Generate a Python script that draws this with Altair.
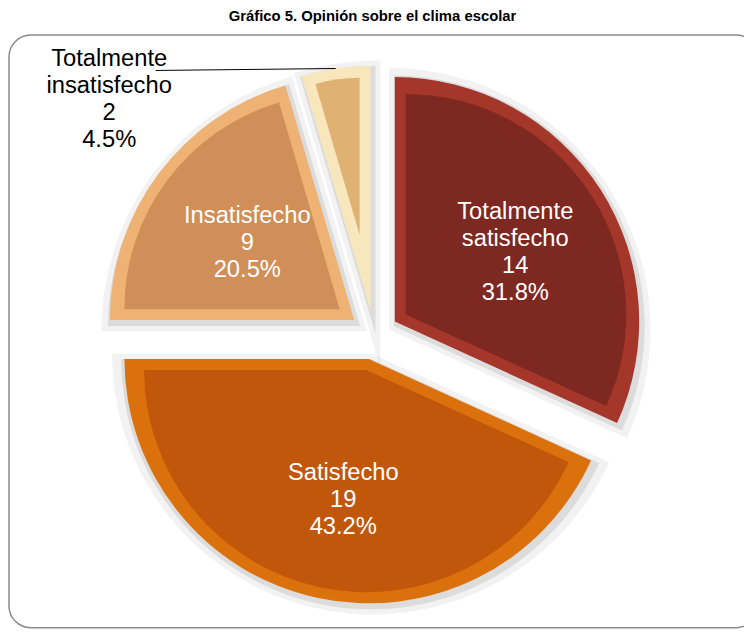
import altair as alt
import pandas as pd

# ---- data ----
categories = ["Totalmente satisfecho", "Satisfecho", "Insatisfecho", "Totalmente insatisfecho"]
counts = [14, 19, 9, 2]
fill_colors = ["#7E2822", "#C0570A", "#D08E58", "#DFB273"]
edge_colors = ["#A4362A", "#DB710D", "#EDB274", "#F8E6BC"]

df = pd.DataFrame({"cat": categories, "n": counts, "order": list(range(len(categories)))})

# ---- geometry / style (view pixels) ----
W, H = 743, 600
CX, CY = 369, 303
EXPLODE = 25
R = 247
BEVEL = 11
LABEL_R = 140
LH = 27.5

base = (
    alt.Chart(df)
    .transform_joinaggregate(total="sum(n)")
    .transform_window(cum="sum(n)", sort=[alt.SortField("order")], frame=[None, 0])
    .transform_calculate(
        t1="2*PI*datum.cum/datum.total",
        t0="2*PI*(datum.cum-datum.n)/datum.total",
    )
    .transform_calculate(
        mid="(datum.t0+datum.t1)/2",
        half="(datum.t1-datum.t0)/2",
        pct="100*datum.n/datum.total",
        nlines="indexof(datum.cat, ' ') >= 0 ? 4 : 3",
    )
    .transform_calculate(
        ax=f"{CX}+{EXPLODE}*sin(datum.mid)",
        ay=f"{CY}-{EXPLODE}*cos(datum.mid)",
        s=f"{BEVEL}/sin(datum.half)",
        sh1="8/sin(datum.half)",
        sh2="3/sin(datum.half)",
    )
    .transform_calculate(
        ix="datum.ax+datum.s*sin(datum.mid)",
        iy="datum.ay-datum.s*cos(datum.mid)",
        ir=f"{R}-{BEVEL}-datum.s",
        s1x="datum.ax-datum.sh1*sin(datum.mid)",
        s1y="datum.ay+datum.sh1*cos(datum.mid)",
        s1r=f"{R}+8+datum.sh1",
        s2x="datum.ax-datum.sh2*sin(datum.mid)",
        s2y="datum.ay+datum.sh2*cos(datum.mid)",
        s2r=f"{R}+3+datum.sh2",
        ex=f"datum.ax+{R}*sin(datum.mid)",
        ey=f"datum.ay-{R}*cos(datum.mid)",
        lx=f"datum.ax+{LABEL_R}*sin(datum.mid)+4",
        ly=f"datum.ay-{LABEL_R}*cos(datum.mid)-(datum.nlines-1)/2*{LH}+6",
        label="replace(datum.cat, ' ', '\\n') + '\\n' + datum.n + '\\n' + format(datum.pct, '.1f') + '%'",
    )
)

theta = alt.Theta("t0:Q", scale=None, stack=None)
theta2 = alt.Theta2("t1:Q")

shadow1 = base.mark_arc(color="#000000", opacity=0.05, xOffset=2, yOffset=3).encode(
    x=alt.X("s1x:Q", scale=None, axis=None),
    y=alt.Y("s1y:Q", scale=None, axis=None),
    theta=theta, theta2=theta2,
    radius=alt.Radius("s1r:Q", scale=None),
)
shadow2 = base.mark_arc(color="#000000", opacity=0.09, xOffset=2, yOffset=3).encode(
    x=alt.X("s2x:Q", scale=None, axis=None),
    y=alt.Y("s2y:Q", scale=None, axis=None),
    theta=theta, theta2=theta2,
    radius=alt.Radius("s2r:Q", scale=None),
)

outer = base.mark_arc(outerRadius=R).encode(
    x=alt.X("ax:Q", scale=None, axis=None),
    y=alt.Y("ay:Q", scale=None, axis=None),
    theta=theta, theta2=theta2,
    fill=alt.Fill("cat:N", scale=alt.Scale(domain=categories, range=edge_colors), legend=None),
)

inner = base.mark_arc().encode(
    x=alt.X("ix:Q", scale=None, axis=None),
    y=alt.Y("iy:Q", scale=None, axis=None),
    theta=theta, theta2=theta2,
    radius=alt.Radius("ir:Q", scale=None),
    color=alt.Color("cat:N", scale=alt.Scale(domain=categories, range=fill_colors), legend=None),
)

inside_labels = base.transform_filter("datum.pct >= 10").mark_text(
    font="Liberation Sans", fontSize=24, lineHeight=LH, color="white",
    align="center", baseline="middle", lineBreak="\n",
).encode(
    x=alt.X("lx:Q", scale=None, axis=None),
    y=alt.Y("ly:Q", scale=None, axis=None),
    text="label:N",
)

outside = base.transform_filter("datum.pct < 10").transform_calculate(
    sx="datum.ex-182", sy="datum.ey+2",
).transform_calculate(
    tx="datum.sx-47", ty="datum.sy-12",
)

leader = outside.mark_rule(color="black", strokeWidth=1).encode(
    x=alt.X("sx:Q", scale=None, axis=None),
    y=alt.Y("sy:Q", scale=None, axis=None),
    x2="ex:Q",
    y2="ey:Q",
)

outside_label = outside.mark_text(
    font="Liberation Sans", fontSize=24, lineHeight=LH, color="black",
    align="center", baseline="middle", lineBreak="\n",
).encode(
    x=alt.X("tx:Q", scale=None, axis=None),
    y=alt.Y("ty:Q", scale=None, axis=None),
    text="label:N",
)

border = alt.Chart(pd.DataFrame({"a": [0]})).mark_rect(
    fillOpacity=0, stroke="#8a8a8a", strokeWidth=1.5, cornerRadius=22,
).encode(
    x=alt.value(0), x2=alt.value(W + 14),
    y=alt.value(0), y2=alt.value(H - 1),
)

chart = alt.layer(
    border, shadow1, shadow2, outer, inner, inside_labels, leader, outside_label
).resolve_scale(color="independent", fill="independent").properties(
    width=W, height=H,
    padding={"left": 1, "top": 24, "right": 0, "bottom": 0},
    autosize="none",
    title=alt.TitleParams(
        "Gráfico 5. Opinión sobre el clima escolar",
        font="Liberation Sans", fontSize=15, fontWeight="bold", color="#000000",
        anchor="middle", baseline="bottom", offset=12, dx=-4, dy=17,
    ),
).configure_view(stroke=None)

chart.save("out.html", embed_options={"renderer": "svg", "actions": False})
